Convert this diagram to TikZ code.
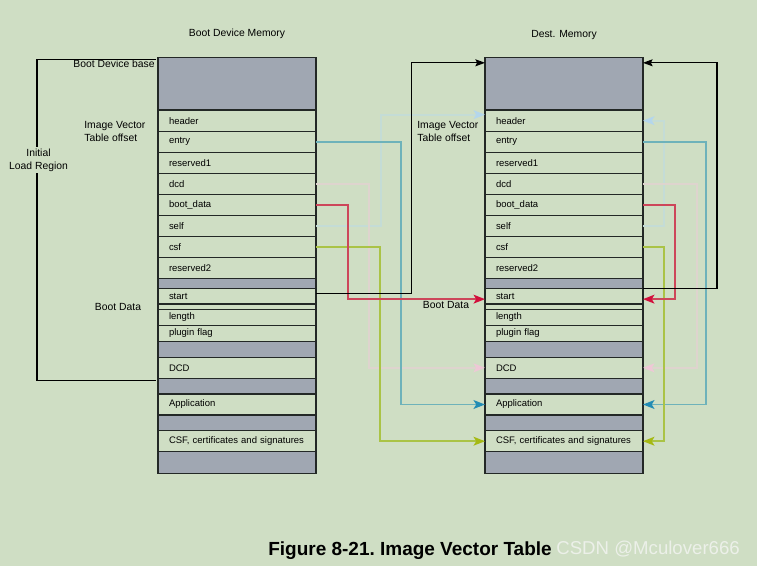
\documentclass[tikz,border=0pt]{standalone}
\usepackage{fontspec}
\setmainfont{Liberation Sans}
\usepackage{tikz}
\usetikzlibrary{calc,arrows.meta}

\definecolor{bgcol}{RGB}{207,222,196}
\definecolor{memgray}{RGB}{160,167,178}
\definecolor{rowline}{RGB}{35,40,38}
\definecolor{tealc}{RGB}{110,178,186}
\definecolor{tealtip}{RGB}{35,140,180}
\definecolor{redc}{RGB}{205,70,90}
\definecolor{redtip}{RGB}{210,15,60}
\definecolor{yelc}{RGB}{170,195,70}
\definecolor{yeltip}{RGB}{165,185,20}
\definecolor{pinkc}{RGB}{222,212,206}
\definecolor{pinktip}{RGB}{238,200,214}
\definecolor{lbluec}{RGB}{196,220,214}
\definecolor{lbluetip}{RGB}{180,214,236}
\definecolor{markc}{RGB}{236,240,233}

\begin{document}
\begin{tikzpicture}[x=0.02cm,y=-0.02cm,
  memrow/.style={draw=rowline, line width=0.6pt, rectangle, anchor=north west,
    outer sep=0pt, inner ysep=0pt, inner xsep=0.22cm, minimum width=3.16cm,
    text width=2.72cm, align=left, font=\fontsize{5.4}{6}\selectfont},
  lbl/.style={font=\fontsize{5.9}{7.4}\selectfont, inner sep=0pt},
  colline/.style={line width=1.1pt},
  tip/.style={-{Stealth[length=6.5pt,width=5pt,inset=1.5pt,color=#1]}},
  blkline/.style={draw=black, line width=0.6pt, -{Stealth[length=5.5pt,width=4pt,inset=1pt]}}]

  \useasboundingbox (0,0) rectangle (757,566);
  \fill[bgcol] (0,0) rectangle (757,566);

  % memory rows, both columns
  \foreach \rid/\ya/\yb/\fc/\txt in {
    base/57.3/110/memgray/{},
    header/110/131.3/bgcol/header,
    entry/131.3/152.3/bgcol/entry,
    resA/152.3/173.3/bgcol/reserved1,
    dcd/173.3/194.3/bgcol/dcd,
    bootdata/194.3/215.3/bgcol/boot\_data,
    self/215.3/236.3/bgcol/self,
    csf/236.3/257.3/bgcol/csf,
    resB/257.3/278.3/bgcol/reserved2,
    gapA/278.3/288.3/memgray/{},
    start/288.3/304/bgcol/start,
    gapB/304/309.3/bgcol/{},
    length/309.3/325.5/bgcol/length,
    plugin/325.5/341.3/bgcol/plugin flag,
    gapC/341.3/357.3/memgray/{},
    DCD/357.3/378.3/bgcol/DCD,
    gapD/378.3/394/memgray/{},
    app/394/415/bgcol/Application,
    gapE/415/430.7/memgray/{},
    CSF/430.7/451.7/bgcol/{CSF, certificates and signatures},
    gapF/451.7/473.3/memgray/{}}
  {
    \node[memrow, fill=\fc, minimum height={(\yb-\ya)*0.02cm}] (L\rid) at (158,\ya) {\txt};
    \node[memrow, fill=\fc, minimum height={(\yb-\ya)*0.02cm}] (R\rid) at (485,\ya) {\txt};
  }

  % initial load region bracket
  \coordinate (brktop) at ($(Lbase.north west)+(-2,2)$);
  \coordinate (brkbot) at ($(LDCD.south west)+(-2,2)$);
  \draw[line width=0.6pt] (brktop) -- ++(-119,0) |- (brkbot);

  % labels
  \node[lbl] (devtitle) at (237,34) {Boot Device Memory};
  \node[lbl] (desttitle) at (564,35) {Dest. Memory};
  \node[lbl, anchor=east] (devbase) at (155,64) {Boot Device base};
  \node[lbl, anchor=west, align=left] (ivtL) at (84,131.5) {Image Vector\\Table offset};
  \node[lbl, align=center, fill=bgcol, inner sep=1pt] (loadreg) at (38.5,160) {Initial\\Load Region};
  \node[lbl] (bootL) at (118,307) {Boot Data};
  \node[lbl, anchor=west, align=left] (ivtR) at (417,131.5) {Image Vector\\Table offset};
  \node[lbl] (bootR) at (446,305) {Boot Data};

  % pointers of the vector table
  \draw[colline, draw=lbluec, tip=lbluetip] (Lself.east) -- ++(65,0) |- ($(Rheader.west)+(0,-6)$);
  \draw[colline, draw=lbluec, tip=lbluetip] (Rself.east) -- ++(21.4,0) |- (Rheader.east);
  \draw[colline, draw=pinkc, tip=pinktip] (Ldcd.east) -- ++(53.3,0) |- (RDCD.west);
  \draw[colline, draw=pinkc, tip=pinktip] (Rdcd.east) -- ++(54,0) |- (RDCD.east);
  \draw[colline, draw=tealc, tip=tealtip] (Lentry.east) -- ++(84.7,0) |- (Rapp.west);
  \draw[colline, draw=tealc, tip=tealtip] (Rentry.east) -- ++(63.4,0) |- (Rapp.east);
  \draw[colline, draw=yelc, tip=yeltip] (Lcsf.east) -- ++(64,0) |- (RCSF.west);
  \draw[colline, draw=yelc, tip=yeltip] (Rcsf.east) -- ++(21,0) |- (RCSF.east);
  \draw[colline, draw=redc, tip=redtip] (Lbootdata.east) -- ++(32.3,0) |- ($(Rstart.west)+(0,3)$);
  \draw[colline, draw=redc, tip=redtip] (Rbootdata.east) -- ++(32,0) |- ($(Rstart.east)+(0,3)$);
  \draw[blkline] ($(Lstart.east)+(0,-3)$) -- ++(95.7,0) |- ($(Rbase.north west)+(0,5.5)$);
  \draw[blkline] (Rstart.north east) -- ++(74,0) |- ($(Rbase.north east)+(0,5.5)$);

  % caption
  \node[anchor=west, inner sep=0pt, font=\bfseries\fontsize{10.8}{13}\selectfont] (caption) at (268,551) {Figure 8-21.\ Image Vector Table};
  \node[anchor=west, inner sep=0pt, text=markc, font=\fontsize{10.6}{13}\selectfont] (mark) at (556,549) {CSDN @Mculover666};
\end{tikzpicture}
\end{document}
